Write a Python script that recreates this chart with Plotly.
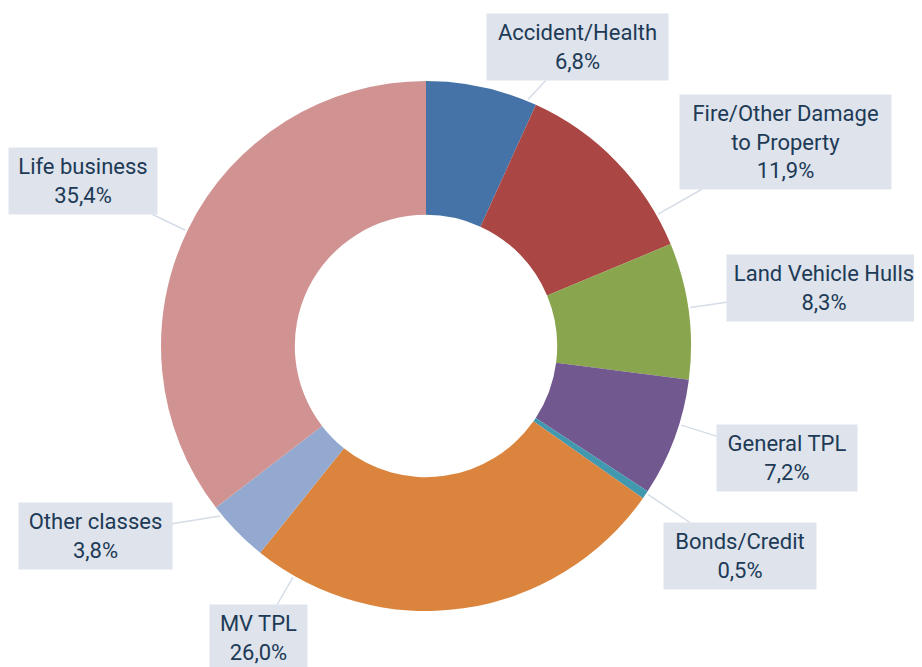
import math
import plotly.graph_objects as go

# ---- data ----
categories = ["Accident/Health", "Fire/Other Damage<br>to Property", "Land Vehicle Hulls",
              "General TPL", "Bonds/Credit", "MV TPL", "Other classes", "Life business"]
shares = [6.8, 11.9, 8.3, 7.2, 0.5, 26.0, 3.8, 35.4]
share_labels = ["6,8%", "11,9%", "8,3%", "7,2%", "0,5%", "26,0%", "3,8%", "35,4%"]

colors = ["#4573a7", "#aa4643", "#89a54e", "#71588f", "#4198af", "#db843d", "#93a9cf", "#d19392"]

# ---- layout (pixels, screen coords) ----
OFF = 8  # page body margin compensation
W, H = 922 + OFF, 667 + OFF
CX, CY, R = 426 - OFF, 346 - OFF, 265
HOLE = 0.495
# label box centers and widths (screen px)
box_centers = [(577, 47), (785, 142), (824, 288), (787, 458), (740, 556), (258, 638), (95, 536), (83, 181)]
box_widths = [181, 211, 194, 140, 152, 97, 153, 148]
PAD = 6

fig = go.Figure(go.Pie(
    labels=categories, values=shares, sort=False, direction="clockwise", rotation=0,
    hole=HOLE, marker=dict(colors=colors, line=dict(width=0)),
    textinfo="none", hoverinfo="label+percent", showlegend=False,
    domain=dict(x=[(CX - R) / W, (CX + R) / W], y=[(H - CY - R) / H, (H - CY + R) / H]),
))

total = sum(shares)
annotations = []
cum = 0.0
for cat, v, lab, (bx, by), bw in zip(categories, shares, share_labels, box_centers, box_widths):
    bx, by = bx - OFF, by - OFF
    a0 = cum / total * 360
    a1 = (cum + v) / total * 360
    cum += v
    ang = math.degrees(math.atan2(bx - CX, -(by - CY))) % 360
    m = min(2.0, (a1 - a0) / 4)
    ang = max(a0 + m, min(a1 - m, ang))
    tx = CX + (R + 2) * math.sin(math.radians(ang))
    ty = CY - (R + 2) * math.cos(math.radians(ang))
    annotations.append(dict(
        x=tx / W, y=1 - ty / H, xref="paper", yref="paper",
        ax=bx - tx, ay=by - ty, axref="pixel", ayref="pixel",
        text=f"{cat}<br>{lab}", showarrow=True, arrowhead=0, arrowwidth=1.5,
        arrowcolor="#d6dde7", standoff=0, startstandoff=0,
        bgcolor="#dee3ec", borderpad=PAD, width=bw - 2 * PAD, align="center",
        font=dict(family="Roboto, sans-serif", size=22, color="#203a56"),
    ))

fig.update_layout(
    width=W, height=H, margin=dict(l=0, r=0, t=0, b=0),
    paper_bgcolor="white", plot_bgcolor="white",
    annotations=annotations,
)

fig.write_html("out.html")
